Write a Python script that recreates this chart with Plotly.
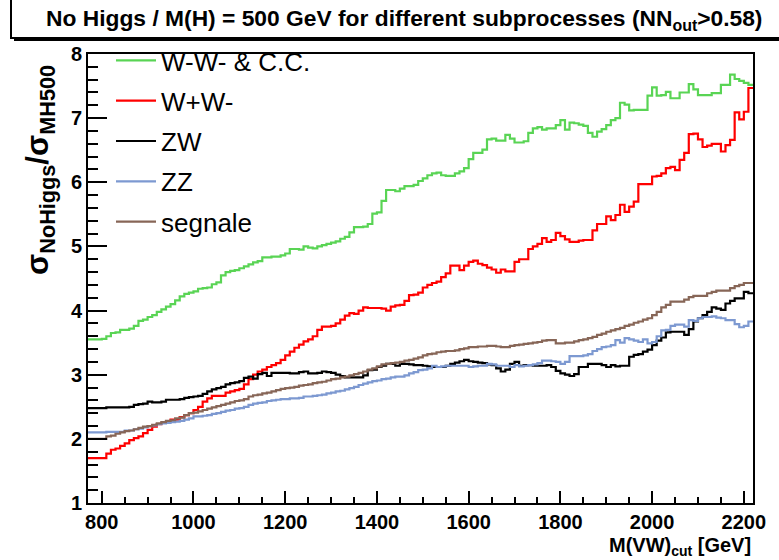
import numpy as np
import plotly.graph_objects as go

# ---- data (10 GeV bins, left edges starting at 770 GeV) ----
bin_start = 770
bin_width = 10
ww_cc = [3.55,3.55,3.55,3.56,3.60,3.65,3.66,3.70,3.70,3.72,3.76,3.84,3.86,3.90,3.93,3.98,4.02,4.06,4.10,4.16,
         4.22,4.26,4.28,4.30,4.34,4.35,4.36,4.41,4.44,4.55,4.60,4.62,4.63,4.66,4.69,4.72,4.75,4.77,4.83,4.83,
         4.84,4.84,4.86,4.89,4.96,4.96,4.95,5.00,4.98,4.97,5.00,5.02,5.04,5.06,5.08,5.12,5.15,5.22,5.30,5.30,
         5.31,5.35,5.51,5.53,5.71,5.88,5.88,5.86,5.90,5.94,5.94,5.96,6.02,6.06,6.11,6.14,6.15,6.11,6.10,6.10,
         6.14,6.17,6.22,6.36,6.46,6.46,6.51,6.67,6.68,6.65,6.65,6.74,6.68,6.62,6.62,6.64,6.77,6.84,6.86,6.82,
         6.84,6.84,6.89,6.97,6.82,6.93,6.92,6.90,6.88,6.77,6.71,6.79,6.83,6.89,6.97,7.00,7.24,7.21,7.12,7.13,
         7.13,7.13,7.35,7.48,7.35,7.36,7.41,7.31,7.31,7.40,7.40,7.53,7.45,7.36,7.36,7.36,7.39,7.39,7.52,7.52,
         7.68,7.61,7.58,7.55,7.52]
wpwm = [1.70,1.70,1.70,1.70,1.77,1.83,1.85,1.89,1.93,1.98,2.01,2.04,2.09,2.14,2.19,2.23,2.25,2.27,2.30,2.30,
        2.34,2.37,2.40,2.45,2.50,2.58,2.63,2.67,2.67,2.67,2.72,2.74,2.76,2.78,2.85,2.93,3.00,3.05,3.08,3.12,
        3.15,3.18,3.23,3.30,3.36,3.42,3.47,3.52,3.55,3.60,3.70,3.75,3.75,3.76,3.80,3.86,3.92,3.96,3.95,4.00,
        4.05,4.04,4.04,4.04,4.03,4.00,4.06,4.08,4.09,4.15,4.24,4.25,4.28,4.36,4.40,4.43,4.45,4.52,4.58,4.70,
        4.70,4.63,4.70,4.76,4.78,4.73,4.71,4.67,4.64,4.59,4.64,4.61,4.61,4.76,4.80,4.80,4.96,5.00,5.04,5.13,
        5.07,5.10,5.21,5.16,5.11,5.07,5.07,5.09,5.10,5.10,5.25,5.35,5.35,5.47,5.41,5.49,5.65,5.54,5.62,5.70,
        5.97,5.97,5.97,6.09,6.10,6.14,6.22,6.24,6.19,6.35,6.46,6.75,6.76,6.67,6.55,6.57,6.60,6.60,6.48,6.58,
        6.66,7.09,6.98,7.10,7.47]
zw = [2.48,2.48,2.48,2.48,2.49,2.49,2.49,2.49,2.49,2.50,2.53,2.54,2.55,2.58,2.57,2.57,2.58,2.61,2.61,2.61,
      2.62,2.64,2.65,2.66,2.67,2.70,2.74,2.77,2.79,2.81,2.85,2.87,2.88,2.90,2.95,2.97,2.94,3.01,3.03,2.98,
      3.03,3.03,3.03,3.03,3.02,3.02,3.04,3.05,3.02,3.02,3.03,3.05,3.04,3.03,3.00,2.98,2.96,2.96,2.96,2.96,
      2.99,3.07,3.08,3.12,3.14,3.17,3.17,3.14,3.17,3.17,3.16,3.15,3.15,3.14,3.13,3.12,3.12,3.12,3.14,3.17,
      3.19,3.21,3.23,3.21,3.20,3.19,3.18,3.16,3.15,3.10,3.05,3.08,3.17,3.20,3.14,3.15,3.15,3.14,3.14,3.14,
      3.15,3.12,3.06,3.02,3.00,2.98,3.01,3.12,3.12,3.17,3.17,3.17,3.15,3.12,3.15,3.13,3.14,3.14,3.28,3.31,
      3.32,3.36,3.39,3.46,3.53,3.58,3.66,3.67,3.67,3.67,3.62,3.71,3.83,3.88,3.93,3.98,4.05,4.03,4.01,4.11,
      4.15,4.19,4.19,4.29,4.27]
zz = [2.10,2.10,2.10,2.10,2.11,2.11,2.11,2.11,2.13,2.13,2.15,2.16,2.18,2.20,2.21,2.23,2.24,2.25,2.26,2.27,
      2.28,2.30,2.32,2.35,2.35,2.36,2.37,2.39,2.40,2.42,2.44,2.45,2.47,2.48,2.50,2.53,2.55,2.56,2.57,2.59,
      2.60,2.61,2.62,2.62,2.63,2.63,2.64,2.66,2.66,2.67,2.68,2.69,2.71,2.72,2.74,2.75,2.77,2.79,2.81,2.84,
      2.86,2.88,2.90,2.91,2.93,2.94,2.96,2.97,2.97,2.99,3.02,3.04,3.07,3.08,3.10,3.14,3.12,3.13,3.14,3.14,
      3.14,3.14,3.14,3.12,3.13,3.14,3.14,3.17,3.16,3.14,3.14,3.14,3.12,3.15,3.13,3.14,3.15,3.16,3.18,3.22,
      3.22,3.21,3.20,3.17,3.20,3.29,3.29,3.29,3.30,3.32,3.37,3.40,3.43,3.44,3.46,3.54,3.50,3.57,3.55,3.53,
      3.51,3.55,3.49,3.51,3.60,3.69,3.70,3.76,3.78,3.78,3.75,3.85,3.84,3.88,3.90,3.90,3.91,3.89,3.88,3.85,
      3.85,3.79,3.74,3.76,3.83]
segnale = [2.00,2.00,2.00,2.00,2.04,2.05,2.08,2.10,2.12,2.13,2.15,2.17,2.19,2.20,2.22,2.24,2.26,2.28,2.29,2.32,
           2.33,2.37,2.40,2.41,2.43,2.45,2.47,2.49,2.51,2.53,2.55,2.57,2.59,2.60,2.62,2.66,2.68,2.69,2.71,2.72,
           2.74,2.76,2.78,2.79,2.80,2.81,2.83,2.84,2.85,2.87,2.88,2.89,2.91,2.93,2.94,2.96,2.97,2.99,3.01,3.03,
           3.05,3.08,3.10,3.13,3.16,3.17,3.18,3.19,3.20,3.22,3.23,3.25,3.27,3.30,3.32,3.33,3.35,3.36,3.37,3.37,
           3.38,3.40,3.41,3.43,3.43,3.44,3.44,3.45,3.45,3.44,3.43,3.43,3.45,3.46,3.47,3.48,3.49,3.50,3.51,3.53,
           3.54,3.54,3.49,3.49,3.50,3.50,3.52,3.54,3.55,3.57,3.59,3.62,3.64,3.67,3.69,3.71,3.73,3.76,3.78,3.81,
           3.83,3.86,3.88,3.93,3.98,4.05,4.09,4.14,4.14,4.14,4.17,4.21,4.23,4.23,4.23,4.27,4.29,4.31,4.31,4.31,
           4.35,4.38,4.40,4.43,4.43]

series_names = ["W-W- & C.C.", "W+W-", "ZW", "ZZ", "segnale"]
series_values = [ww_cc, wpwm, zw, zz, segnale]
series_colors = ["#59D454", "#FF0000", "#000000", "#7D99D1", "#876657"]

FONT = "Liberation Sans"

fig = go.Figure()
for i, (name, vals, col) in enumerate(zip(series_names, series_values, series_colors)):
    n = len(vals)
    edges = bin_start + bin_width * np.arange(n + 1)
    yv = list(vals) + [vals[-1]]
    fig.add_trace(go.Scatter(x=edges, y=yv, mode="lines", name=name,
                             line=dict(color=col, width=2.2, shape="hv"),
                             legendgroup=f"g{i}"))

L, R, T, B = 88, 26, 54, 57
W, H = 779, 560
pw, ph = W - L - R, H - T - B

def px_x(p):
    return (p - L) / pw

def px_y(p):
    return (H - B - p) / ph

fig.update_layout(
    width=W, height=H,
    margin=dict(l=L, r=R, t=T, b=B),
    paper_bgcolor="white", plot_bgcolor="white",
    font=dict(family=FONT, color="black"),
    showlegend=True,
    legend=dict(x=px_x(111), y=px_y(37), xanchor="left", yanchor="top",
                font=dict(family=FONT, size=26, color="black"),
                bgcolor="rgba(0,0,0,0)", borderwidth=0,
                traceorder="grouped", tracegroupgap=3.5,
                itemwidth=40),
    xaxis=dict(range=[770, 2220], tick0=800, dtick=200, ticks="inside", ticklen=12,
               tickwidth=2, tickcolor="black", showline=True, linewidth=2, linecolor="black",
               mirror=True, showgrid=False, zeroline=False,
               tickfont=dict(family=FONT, size=20, color="black", weight="bold"),
               minor=dict(dtick=50, tick0=800, ticks="inside", ticklen=6, tickwidth=1.5,
                          tickcolor="black", showgrid=False)),
    yaxis=dict(range=[1, 8], dtick=1, ticks="inside", ticklen=19, tickwidth=2,
               tickcolor="black", showline=True, linewidth=2, linecolor="black",
               mirror=True, showgrid=False, zeroline=False,
               tickfont=dict(family=FONT, size=20, color="black", weight="bold"),
               minor=dict(dtick=0.2, ticks="inside", ticklen=10, tickwidth=1.5,
                          tickcolor="black", showgrid=False)),
)

# title box with shadow
fig.add_shape(type="rect", xref="paper", yref="paper",
              x0=px_x(14), x1=px_x(790), y0=px_y(41), y1=px_y(37),
              fillcolor="black", line=dict(width=0), layer="above")
fig.add_shape(type="rect", xref="paper", yref="paper",
              x0=px_x(11), x1=px_x(790), y0=px_y(38), y1=px_y(-3),
              fillcolor="white", line=dict(color="black", width=2), layer="above")
fig.add_annotation(xref="paper", yref="paper", x=px_x(404), y=px_y(19),
                   xanchor="center", yanchor="middle", showarrow=False,
                   text="No Higgs / M(H) = 500 GeV for different subprocesses (NN<sub>out</sub>>0.58)",
                   font=dict(family=FONT, size=22.8, color="black", weight="bold"))

# y axis title
fig.add_annotation(xref="paper", yref="paper", x=px_x(40), y=px_y(170),
                   xanchor="center", yanchor="middle", showarrow=False, textangle=-90,
                   text="σ<sub>NoHiggs</sub>/σ<sub>MH500</sub>",
                   font=dict(family=FONT, size=31, color="black", weight="bold"))

# x axis title
fig.add_annotation(xref="paper", yref="paper", x=px_x(753), y=px_y(546),
                   xanchor="right", yanchor="middle", showarrow=False,
                   text="M(VW)<sub>cut</sub> [GeV]",
                   font=dict(family=FONT, size=20, color="black", weight="bold"))

fig.write_html("out.html")
